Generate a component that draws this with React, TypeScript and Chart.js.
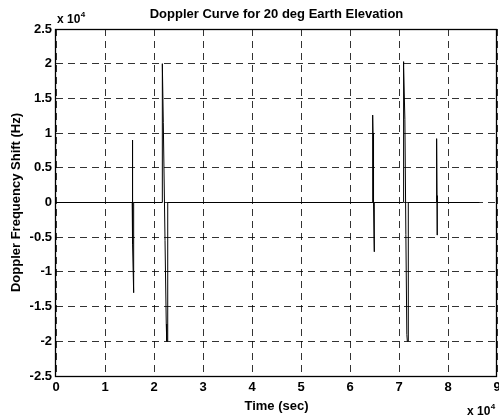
import React, { useEffect, useRef } from "react";
import { Chart, registerables } from "chart.js";

Chart.register(...registerables);

// Time (sec) and Doppler shift (Hz) samples
const timeSec = [
  0,
  15550, 15550, 15620, 15700, 15850, 15850,
  21700, 21700, 21900, 22250, 22500, 22600, 22800, 22800,
  64630, 64630, 64700, 64800, 64900, 64960, 64960,
  70880, 70880, 71000, 71200, 71400, 71600, 71700, 71900, 71900,
  77680, 77680, 77760, 77800, 77800,
  86400,
];
const dopplerHz = [
  0,
  0, 9000, 3000, -6000, -13000, 0,
  0, 20000, 11500, -5500, -17500, -20000, -20000, 0,
  0, 12600, 10000, 0, -5000, -7100, 0,
  0, 20300, 19500, 12000, -4600, -19000, -20000, -20000, 0,
  0, 9200, 1000, -4700, 0,
  0,
];

const xTicks = [0, 1, 2, 3, 4, 5, 6, 7, 8, 9];
const yTicks = [-2.5, -2, -1.5, -1, -0.5, 0, 0.5, 1, 1.5, 2, 2.5];
const titleText = "Doppler Curve for 20 deg Earth Elevation";
const xLabel = "Time (sec)";
const yLabel = "Doppler Frequency Shift (Hz)";
const scaleExp = "4";

const FONT = "Arial, 'Liberation Sans', Helvetica, sans-serif";

const decorPlugin = {
  id: "decor",
  afterDraw(chart: any) {
    const { ctx, chartArea } = chart;
    const { left, right, top, bottom } = chartArea;
    ctx.save();
    // axes box
    ctx.strokeStyle = "#000";
    ctx.lineWidth = 1.3;
    ctx.setLineDash([]);
    ctx.strokeRect(Math.round(left) - 0.5, Math.round(top) + 0.5, Math.round(right - left), Math.round(bottom - top));
    ctx.fillStyle = "#000";
    // title
    ctx.font = `bold 13px ${FONT}`;
    ctx.textAlign = "center";
    ctx.textBaseline = "alphabetic";
    ctx.fillText(titleText, (left + right) / 2, 18);
    // x label
    ctx.fillText(xLabel, (left + right) / 2, 410);
    // y label
    ctx.save();
    ctx.translate(20, (top + bottom) / 2);
    ctx.rotate(-Math.PI / 2);
    ctx.fillText(yLabel, 0, 0);
    ctx.restore();
    // exponent labels
    ctx.textAlign = "left";
    ctx.font = `bold 12px ${FONT}`;
    ctx.fillText("x 10", 57, 23);
    let w = ctx.measureText("x 10").width;
    ctx.font = `bold 8px ${FONT}`;
    ctx.fillText(scaleExp, 57 + w + 0.5, 17);
    ctx.font = `bold 12px ${FONT}`;
    ctx.fillText("x 10", 467, 415);
    w = ctx.measureText("x 10").width;
    ctx.font = `bold 8px ${FONT}`;
    ctx.fillText(scaleExp, 467 + w + 0.5, 409);
    ctx.restore();
  },
};

export default function App() {
  const ref = useRef<HTMLCanvasElement | null>(null);
  useEffect(() => {
    if (!ref.current) return;
    const data = timeSec.map((t, i) => ({ x: t, y: dopplerHz[i] }));
    const chart = new Chart(ref.current, {
      type: "line",
      data: {
        datasets: [
          {
            data,
            borderColor: "#000",
            borderWidth: 1,
            pointRadius: 0,
            tension: 0,
            fill: false,
          },
        ],
      },
      options: {
        animation: false,
        responsive: false,
        devicePixelRatio: 1,
        layout: { padding: { top: 29, right: 2, bottom: 0, left: 0 } },
        plugins: { legend: { display: false }, tooltip: { enabled: false }, title: { display: false } },
        scales: {
          x: {
            type: "linear",
            min: xTicks[0] * 1e4,
            max: xTicks[xTicks.length - 1] * 1e4,
            afterBuildTicks: (s: any) => {
              s.ticks = xTicks.map((v) => ({ value: v * 1e4 }));
            },
            afterFit: (s: any) => {
              s.height = 42;
              s.paddingLeft = 0;
              s.paddingRight = 0;
            },
            ticks: {
              color: "#000",
              font: { family: FONT, size: 13, weight: "bold" },
              padding: 4,
              maxRotation: 0,
              autoSkip: false,
              callback: (v: any) => String(Number(v) / 1e4),
            },
            grid: { color: "rgba(0,0,0,0.8)", lineWidth: 1, drawTicks: false },
            border: { display: false, dash: [7, 5] },
          },
          y: {
            type: "linear",
            min: yTicks[0] * 1e4,
            max: yTicks[yTicks.length - 1] * 1e4,
            afterBuildTicks: (s: any) => {
              s.ticks = yTicks.map((v) => ({ value: v * 1e4 }));
            },
            afterFit: (s: any) => {
              s.width = 56;
              s.paddingTop = 0;
              s.paddingBottom = 0;
            },
            ticks: {
              color: "#000",
              font: { family: FONT, size: 13, weight: "bold" },
              padding: 4,
              autoSkip: false,
              callback: (v: any) => String(Math.round(Number(v) / 1000) / 10),
            },
            grid: { color: "rgba(0,0,0,0.8)", lineWidth: 1, drawTicks: false },
            border: { display: false, dash: [7, 5] },
          },
        },
      },
      plugins: [decorPlugin],
    });
    return () => chart.destroy();
  }, []);
  return (
    <div style={{ position: "absolute", left: 0, top: 0, width: 499, height: 418, background: "#fff" }}>
      <canvas ref={ref} width={499} height={418} style={{ width: 499, height: 418 }} />
    </div>
  );
}
